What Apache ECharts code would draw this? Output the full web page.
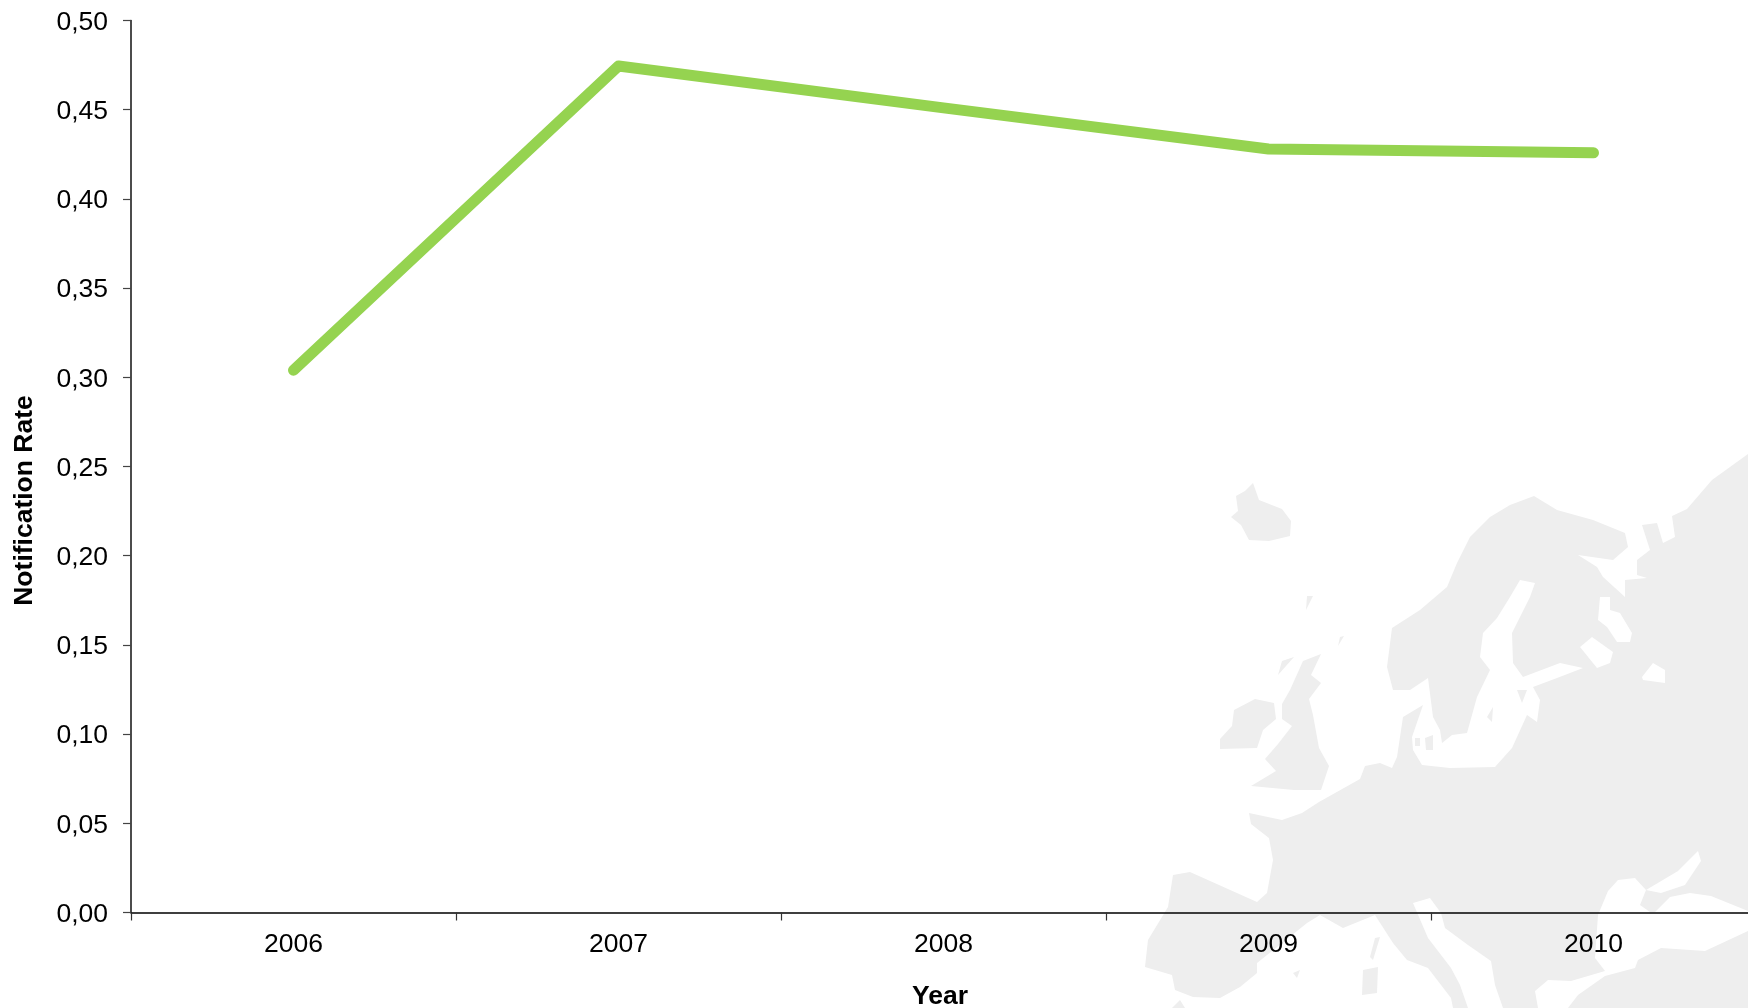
<!DOCTYPE html>
<html>
<head>
<meta charset="utf-8">
<style>html,body{margin:0;padding:0;background:#fff;overflow:hidden}#c{width:1748px;height:1008px}</style>
<script src="https://cdn.jsdelivr.net/npm/echarts@6/dist/echarts.min.js"></script>
</head>
<body>
<div id="c"></div>
<script>
const years = ['2006','2007','2008','2009','2010'];
const notificationRate = [0.304, 0.4745, 0.451, 0.428, 0.4258];
const yTicks = {min:0, max:0.5, interval:0.05};

// Decorative watermark map of Europe behind the plot (not data)
const landShapes = [
 // Iceland
 [[1253,483],[1259,500],[1282,509],[1291,521],[1290,536],[1269,541],[1249,540],[1241,525],[1231,517],[1238,511],[1236,496],[1245,491]],
 // Ireland
 [[1234,710],[1255,699],[1274,703],[1276,719],[1263,730],[1257,748],[1220,749],[1220,739],[1232,726]],
 // Britain
 [[1303,661],[1321,654],[1311,675],[1321,683],[1309,699],[1313,715],[1319,748],[1329,766],[1321,790],[1294,790],[1251,786],[1276,771],[1265,759],[1278,744],[1292,726],[1282,719],[1282,704],[1290,690]],
 // small northern islands
 [[1307,596],[1313,596],[1306,610]],
 [[1340,637],[1344,636],[1338,646]],
 [[1282,661],[1294,657],[1278,675]],
 // mainland with Scandinavia
 [[1748,454],[1712,480],[1687,509],[1672,516],[1675,537],[1663,543],[1657,523],[1642,525],[1650,550],[1637,560],[1637,575],[1647,578],[1625,580],[1625,597],[1603,577],[1597,567],[1578,555],[1613,560],[1628,547],[1625,533],[1593,520],[1557,510],[1534,496],[1510,505],[1490,517],[1470,537],[1457,563],[1447,587],[1420,610],[1392,628],[1387,667],[1393,690],[1410,690],[1428,678],[1433,717],[1440,730],[1442,743],[1452,735],[1467,733],[1477,697],[1490,670],[1480,657],[1483,633],[1497,618],[1510,597],[1520,580],[1535,583],[1530,597],[1512,633],[1513,663],[1523,677],[1560,663],[1583,668],[1557,678],[1533,687],[1540,700],[1537,722],[1527,715],[1512,748],[1495,767],[1450,768],[1422,765],[1413,750],[1412,737],[1423,705],[1403,717],[1397,757],[1392,768],[1380,763],[1365,766],[1360,779],[1319,802],[1302,813],[1282,820],[1249,813],[1251,824],[1269,838],[1273,860],[1267,893],[1257,902],[1190,872],[1173,875],[1168,907],[1148,940],[1145,967],[1172,975],[1175,990],[1193,997],[1220,998],[1240,987],[1257,973],[1257,963],[1307,923],[1320,915],[1343,928],[1375,915],[1393,943],[1407,960],[1428,968],[1451,998],[1453,1008],[1468,1008],[1460,985],[1451,968],[1428,938],[1413,903],[1430,898],[1441,913],[1445,928],[1468,945],[1491,961],[1495,985],[1503,1008],[1748,1008]],
 // Corsica, Sardinia, Balearics, Gotland, Saaremaa, Danish islands, North Africa
 [[1375,938],[1380,937],[1373,960],[1370,957]],
 [[1363,970],[1378,967],[1377,993],[1362,995]],
 [[1293,973],[1300,970],[1297,978]],
 [[1487,717],[1493,707],[1492,722]],
 [[1517,690],[1527,690],[1522,703]],
 [[1415,738],[1420,738],[1420,746],[1415,746]],
 [[1425,738],[1433,735],[1433,750],[1426,750]],
 [[1172,1008],[1180,1000],[1185,1008]],
];
const seaShapes = [
 // Black Sea and Aegean
 [[1608,891],[1618,880],[1635,878],[1646,890],[1640,905],[1650,912],[1655,912],[1670,897],[1690,893],[1711,896],[1748,911],[1748,931],[1705,951],[1661,948],[1638,960],[1635,968],[1605,976],[1578,995],[1568,1008],[1538,1008],[1535,991],[1548,980],[1571,981],[1605,971],[1595,958],[1598,915]],
 // Azov
 [[1646,890],[1678,871],[1698,851],[1701,861],[1685,885],[1661,893]],
 // Ladoga, Onega, Karelian lakes
 [[1580,647],[1592,637],[1613,652],[1610,663],[1597,668]],
 [[1642,677],[1653,663],[1665,670],[1665,683],[1643,680]],
 [[1600,597],[1610,597],[1610,610],[1620,613],[1632,633],[1630,642],[1617,642],[1607,627],[1598,620]],
];
const mapColor = '#eeeeee';
const seaColor = '#ffffff';

function shape(points, fill, z2){
  return {type:'polygon', silent:true, z:-1, z2, shape:{points}, style:{fill}};
}

const chart = echarts.init(document.getElementById('c'), null, {renderer:'canvas'});
chart.setOption({
  animation:false,
  backgroundColor:'#ffffff',
  textStyle:{fontFamily:'"Liberation Sans", Arial, sans-serif'},
  graphic:[{
    type:'group', silent:true, z:-1,
    children:[...landShapes.map(p=>shape(p,mapColor,1)), ...seaShapes.map(p=>shape(p,seaColor,2))]
  }],
  grid:{left:131, top:20.5, width:1625, height:892, outerBoundsMode:'none'},
  xAxis:{
    type:'category', data:years, boundaryGap:true,
    name:'Year', nameLocation:'middle', nameGap:71,
    nameTextStyle:{fontSize:26.5, fontWeight:'bold', color:'#000', padding:[0,7,0,0]},
    axisLine:{lineStyle:{color:'#000', width:1.5}},
    axisTick:{show:true, length:8, lineStyle:{color:'#333', width:1.2}},
    axisLabel:{fontSize:26.5, color:'#000', margin:19},
    splitLine:{show:false}
  },
  yAxis:{
    type:'value', min:yTicks.min, max:yTicks.max, interval:yTicks.interval,
    name:'Notification Rate', nameLocation:'middle', nameGap:93,
    nameTextStyle:{fontSize:26.5, fontWeight:'bold', color:'#000', padding:[0,68,0,0]},
    axisLine:{show:true, onZero:false, lineStyle:{color:'#111', width:1.5}},
    axisTick:{show:true, length:8, lineStyle:{color:'#444', width:1.2}},
    axisLabel:{fontSize:26.5, color:'#000', margin:23, lineHeight:4, verticalAlign:'top', formatter:v=>v.toFixed(2).replace('.',',')},
    splitLine:{show:false}
  },
  series:[{
    type:'line', data:notificationRate, symbol:'none', smooth:false,
    lineStyle:{color:'#95d350', width:11, cap:'round', join:'round'}
  }]
});
</script>
</body>
</html>
